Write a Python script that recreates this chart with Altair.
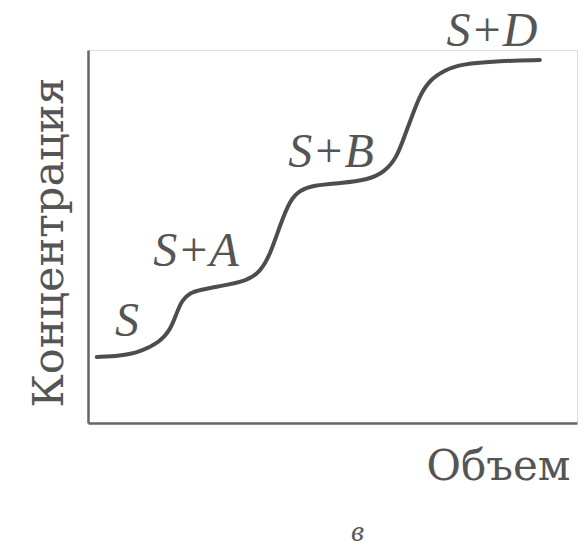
import altair as alt
import pandas as pd

# Titration-style step curve: concentration vs. added volume
volume = [1.8, 6.5, 10.6, 14.7, 16.8, 18.0, 19.2, 20.9, 22.9, 27.0, 32.5, 35.2,
          37.2, 39.3, 41.3, 43.4, 46.4, 51.5, 57.1, 60.7, 63.2, 64.8, 66.5, 67.9,
          69.9, 73.0, 76.1, 84.3, 92.4]
concentration = [17.7, 18.0, 19.0, 21.7, 24.9, 29.0, 33.0, 34.9, 35.7, 36.7, 38.1,
                 40.5, 45.0, 53.1, 59.8, 62.5, 63.8, 64.3, 65.1, 67.3, 71.3, 77.2,
                 83.1, 87.9, 92.0, 94.6, 96.2, 97.1, 97.3]

# Plateau annotations
label_text = ["S", "S+A", "S+B", "S+D"]
label_x = [8.0, 22.1, 49.7, 82.6]
label_y = [23.3, 42.1, 68.6, 101.1]

curve = pd.DataFrame({"volume": volume, "concentration": concentration})
labels = pd.DataFrame({"text": label_text, "volume": label_x, "concentration": label_y})

ink = "#4d4d4d"

x_enc = alt.X(
    "volume:Q",
    scale=alt.Scale(domain=[0, 100], nice=False, zero=False),
    axis=alt.Axis(
        title="Объем", ticks=False, labels=False, grid=False,
        domainColor="#666666", domainWidth=2.5,
        titleFont="DejaVu Serif", titleFontSize=42, titleFontWeight="normal",
        titleColor="#555555", titleAlign="right", titleBaseline="alphabetic",
        titleX=482, titleY=56,
    ),
)
y_enc = alt.Y(
    "concentration:Q",
    scale=alt.Scale(domain=[0, 100], nice=False, zero=False),
    axis=alt.Axis(
        title="Концентрация", ticks=False, labels=False, grid=False,
        domainColor="#666666", domainWidth=2.5,
        titleFont="DejaVu Serif", titleFontSize=43, titleFontWeight="normal",
        titleColor="#555555", titleAlign="center", titleBaseline="alphabetic",
        titleAngle=270, titleX=-26, titleY=192,
    ),
)

line = alt.Chart(curve).mark_line(
    interpolate="basis", color=ink, strokeWidth=4, strokeCap="round"
).encode(x=x_enc, y=y_enc)

text = alt.Chart(labels).mark_text(
    font="Liberation Serif", fontStyle="italic", fontSize=48,
    color="#555555", align="center", baseline="alphabetic", clip=False,
).encode(x="volume:Q", y="concentration:Q", text="text:N")

chart = (
    alt.layer(line, text)
    .properties(
        width=489,
        height=373,
        autosize=alt.AutoSizeParams(type="none"),
        padding={"left": 88, "top": 50, "right": 11, "bottom": 126},
        title=alt.TitleParams(
            "в", orient="bottom", anchor="middle", font="Liberation Serif",
            fontStyle="italic", fontSize=30, fontWeight="normal",
            color="#5a5a5a", dx=25, offset=30,
        ),
    )
    .configure_view(stroke=None)
    .configure(background="white")
)

chart.save("out.html", embed_options={"renderer": "svg", "actions": False})
